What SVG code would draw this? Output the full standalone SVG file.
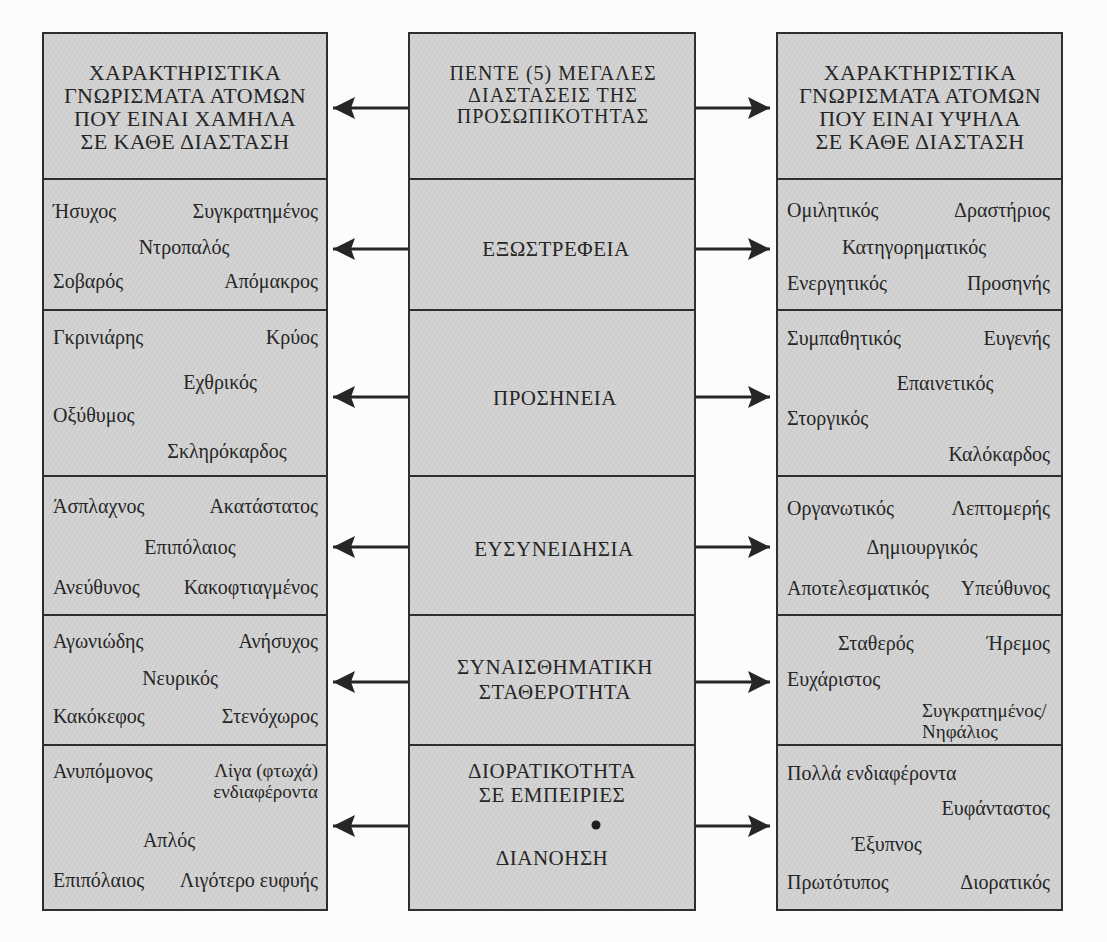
<svg xmlns="http://www.w3.org/2000/svg" width="1107" height="942" viewBox="0 0 1107 942">
  <defs>
    <pattern id="grain" width="4" height="4" patternUnits="userSpaceOnUse" patternTransform="rotate(30)">
      <rect width="4" height="4" fill="#d3d3d3"/>
      <line x1="0" y1="0" x2="0" y2="4" stroke="#c2c2c2" stroke-width="1.2"/>
    </pattern>
    <marker id="head" markerUnits="userSpaceOnUse" markerWidth="24" markerHeight="24" viewBox="0 0 24 24" refX="22" refY="12" orient="auto">
      <path d="M0,1 L22,12 L0,23 L4,12 Z" fill="#262626"/>
    </marker>
  </defs>
  <style>
    .cell { fill: url(#grain); stroke: #2e2e2e; stroke-width: 2; }
    text { font-family: "Liberation Serif", "DejaVu Serif", serif; fill: #262626; }
    .hd { font-size: 22px; letter-spacing: 0.4px; text-anchor: middle; }
    .hm { font-size: 20px; letter-spacing: 1px; text-anchor: middle; }
    .dim { font-size: 21px; letter-spacing: 0.5px; text-anchor: middle; }
    .w { font-size: 20px; }
    .s { font-size: 19px; }
    .r { text-anchor: end; }
    .c { text-anchor: middle; }
    .arrow { stroke: #262626; stroke-width: 3; fill: none; marker-end: url(#head); }
  </style>
  <rect width="1107" height="942" fill="#fcfcfc"/>

  <!-- low-scoring traits column -->
  <g id="low-header">
    <rect class="cell" x="43" y="33" width="284" height="146"/>
    <text class="hd" x="185" y="80">ΧΑΡΑΚΤΗΡΙΣΤΙΚΑ</text>
    <text class="hd" x="185" y="103">ΓΝΩΡΙΣΜΑΤΑ ΑΤΟΜΩΝ</text>
    <text class="hd" x="185" y="126">ΠΟΥ ΕΙΝΑΙ ΧΑΜΗΛΑ</text>
    <text class="hd" x="185" y="149">ΣΕ ΚΑΘΕ ΔΙΑΣΤΑΣΗ</text>
  </g>
  <g id="low-extraversion">
    <rect class="cell" x="43" y="179" width="284" height="131"/>
    <text class="w" x="53" y="218">Ήσυχος</text>
    <text class="w r" x="318" y="218">Συγκρατημένος</text>
    <text class="w c" x="184" y="254">Ντροπαλός</text>
    <text class="w" x="53" y="288">Σοβαρός</text>
    <text class="w r" x="318" y="288">Απόμακρος</text>
  </g>
  <g id="low-agreeableness">
    <rect class="cell" x="43" y="310" width="284" height="166"/>
    <text class="w" x="53" y="344">Γκρινιάρης</text>
    <text class="w r" x="318" y="344">Κρύος</text>
    <text class="w c" x="220" y="389">Εχθρικός</text>
    <text class="w" x="53" y="422">Οξύθυμος</text>
    <text class="w c" x="227" y="458">Σκληρόκαρδος</text>
  </g>
  <g id="low-conscientiousness">
    <rect class="cell" x="43" y="476" width="284" height="139"/>
    <text class="w" x="53" y="513">Άσπλαχνος</text>
    <text class="w r" x="318" y="513">Ακατάστατος</text>
    <text class="w c" x="190" y="554">Επιπόλαιος</text>
    <text class="w" x="53" y="594">Ανεύθυνος</text>
    <text class="w r" x="318" y="594">Κακοφτιαγμένος</text>
  </g>
  <g id="low-stability">
    <rect class="cell" x="43" y="615" width="284" height="130"/>
    <text class="w" x="53" y="648">Αγωνιώδης</text>
    <text class="w r" x="318" y="648">Ανήσυχος</text>
    <text class="w c" x="180" y="685">Νευρικός</text>
    <text class="w" x="53" y="723">Κακόκεφος</text>
    <text class="w r" x="318" y="723">Στενόχωρος</text>
  </g>
  <g id="low-openness">
    <rect class="cell" x="43" y="745" width="284" height="165"/>
    <text class="w" x="53" y="778">Ανυπόμονος</text>
    <text class="s r" x="318" y="777">Λίγα (φτωχά)</text>
    <text class="s r" x="318" y="798">ενδιαφέροντα</text>
    <text class="w c" x="169" y="847">Απλός</text>
    <text class="w" x="53" y="887">Επιπόλαιος</text>
    <text class="w r" x="318" y="887">Λιγότερο ευφυής</text>
  </g>

  <!-- dimension column -->
  <g id="dim-header">
    <rect class="cell" x="409" y="33" width="286" height="146"/>
    <text class="hm" x="553" y="80">ΠΕΝΤΕ (5) ΜΕΓΑΛΕΣ</text>
    <text class="hm" x="553" y="101.5">ΔΙΑΣΤΑΣΕΙΣ ΤΗΣ</text>
    <text class="hm" x="553" y="123">ΠΡΟΣΩΠΙΚΟΤΗΤΑΣ</text>
  </g>
  <g id="dim-extraversion">
    <rect class="cell" x="409" y="179" width="286" height="131"/>
    <text class="dim" x="556" y="256">ΕΞΩΣΤΡΕΦΕΙΑ</text>
  </g>
  <g id="dim-agreeableness">
    <rect class="cell" x="409" y="310" width="286" height="166"/>
    <text class="dim" x="555" y="405">ΠΡΟΣΗΝΕΙΑ</text>
  </g>
  <g id="dim-conscientiousness">
    <rect class="cell" x="409" y="476" width="286" height="139"/>
    <text class="dim" x="554" y="556">ΕΥΣΥΝΕΙΔΗΣΙΑ</text>
  </g>
  <g id="dim-stability">
    <rect class="cell" x="409" y="615" width="286" height="130"/>
    <text class="dim" x="555" y="674">ΣΥΝΑΙΣΘΗΜΑΤΙΚΗ</text>
    <text class="dim" x="555" y="699">ΣΤΑΘΕΡΟΤΗΤΑ</text>
  </g>
  <g id="dim-openness">
    <rect class="cell" x="409" y="745" width="286" height="165"/>
    <text class="dim" x="552" y="778">ΔΙΟΡΑΤΙΚΟΤΗΤΑ</text>
    <text class="dim" x="552" y="802">ΣΕ ΕΜΠΕΙΡΙΕΣ</text>
    <circle cx="596" cy="825" r="4.5" fill="#1e1e1e"/>
    <text class="dim" x="552" y="865">ΔΙΑΝΟΗΣΗ</text>
  </g>

  <!-- high-scoring traits column -->
  <g id="high-header">
    <rect class="cell" x="777" y="33" width="285" height="146"/>
    <text class="hd" x="920" y="80">ΧΑΡΑΚΤΗΡΙΣΤΙΚΑ</text>
    <text class="hd" x="920" y="103">ΓΝΩΡΙΣΜΑΤΑ ΑΤΟΜΩΝ</text>
    <text class="hd" x="920" y="126">ΠΟΥ ΕΙΝΑΙ ΥΨΗΛΑ</text>
    <text class="hd" x="920" y="149">ΣΕ ΚΑΘΕ ΔΙΑΣΤΑΣΗ</text>
  </g>
  <g id="high-extraversion">
    <rect class="cell" x="777" y="179" width="285" height="131"/>
    <text class="w" x="787" y="217">Ομιλητικός</text>
    <text class="w r" x="1050" y="217">Δραστήριος</text>
    <text class="w c" x="914" y="254">Κατηγορηματικός</text>
    <text class="w" x="787" y="290">Ενεργητικός</text>
    <text class="w r" x="1050" y="290">Προσηνής</text>
  </g>
  <g id="high-agreeableness">
    <rect class="cell" x="777" y="310" width="285" height="166"/>
    <text class="w" x="787" y="345">Συμπαθητικός</text>
    <text class="w r" x="1050" y="345">Ευγενής</text>
    <text class="w c" x="945" y="390">Επαινετικός</text>
    <text class="w" x="787" y="425">Στοργικός</text>
    <text class="w r" x="1050" y="461">Καλόκαρδος</text>
  </g>
  <g id="high-conscientiousness">
    <rect class="cell" x="777" y="476" width="285" height="139"/>
    <text class="w" x="787" y="515">Οργανωτικός</text>
    <text class="w r" x="1050" y="515">Λεπτομερής</text>
    <text class="w c" x="922" y="554">Δημιουργικός</text>
    <text class="w" x="787" y="595">Αποτελεσματικός</text>
    <text class="w r" x="1050" y="595">Υπεύθυνος</text>
  </g>
  <g id="high-stability">
    <rect class="cell" x="777" y="615" width="285" height="130"/>
    <text class="w" x="838" y="650">Σταθερός</text>
    <text class="w r" x="1050" y="650">Ήρεμος</text>
    <text class="w" x="787" y="686">Ευχάριστος</text>
    <text class="s" x="922" y="717">Συγκρατημένος/</text>
    <text class="s" x="922" y="738">Νηφάλιος</text>
  </g>
  <g id="high-openness">
    <rect class="cell" x="777" y="745" width="285" height="165"/>
    <text class="w" x="787" y="780">Πολλά ενδιαφέροντα</text>
    <text class="w r" x="1050" y="815">Ευφάνταστος</text>
    <text class="w" x="852" y="851">Έξυπνος</text>
    <text class="w" x="787" y="889">Πρωτότυπος</text>
    <text class="w r" x="1050" y="889">Διορατικός</text>
  </g>

  <!-- arrows from each dimension out to the low and high trait cells -->
  <g id="connectors">
    <line class="arrow" x1="408" y1="108" x2="333" y2="108"/>
    <line class="arrow" x1="408" y1="249" x2="333" y2="249"/>
    <line class="arrow" x1="408" y1="397" x2="333" y2="397"/>
    <line class="arrow" x1="408" y1="547" x2="333" y2="547"/>
    <line class="arrow" x1="408" y1="682" x2="333" y2="682"/>
    <line class="arrow" x1="408" y1="826" x2="333" y2="826"/>
    <line class="arrow" x1="696" y1="108" x2="770" y2="108"/>
    <line class="arrow" x1="696" y1="249" x2="770" y2="249"/>
    <line class="arrow" x1="696" y1="397" x2="770" y2="397"/>
    <line class="arrow" x1="696" y1="547" x2="770" y2="547"/>
    <line class="arrow" x1="696" y1="682" x2="770" y2="682"/>
    <line class="arrow" x1="696" y1="826" x2="770" y2="826"/>
  </g>
</svg>
